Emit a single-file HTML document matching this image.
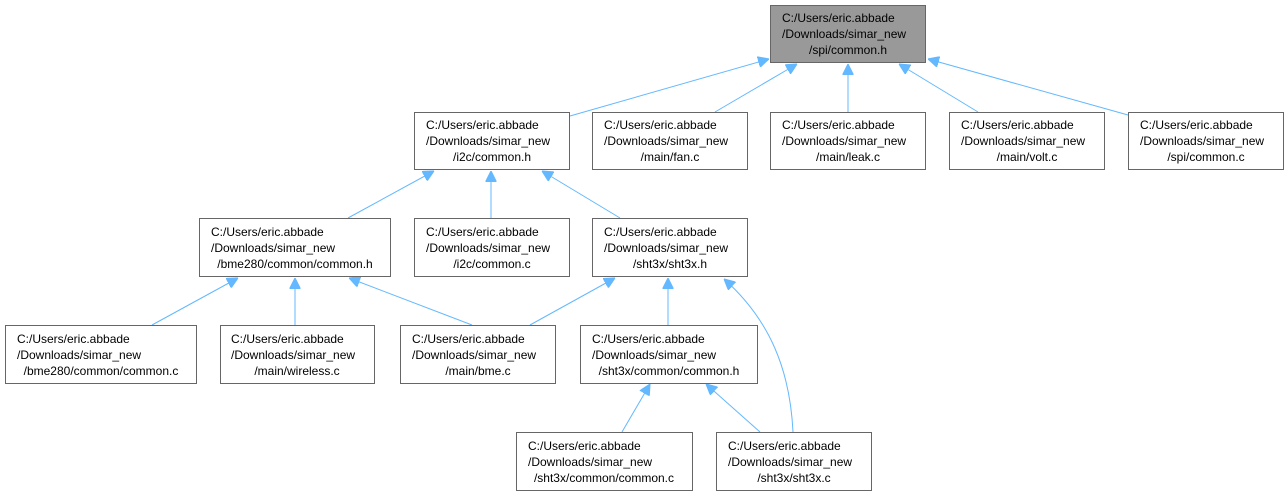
<!DOCTYPE html>
<html><head><meta charset="utf-8"><style>
body{margin:0;background:#fff}
svg{display:block}
text{font-family:"Liberation Sans",Arial,sans-serif;font-size:12px;fill:#000}
.b{fill:#fff;stroke:#666;stroke-width:1}
.g{fill:#999;stroke:#666;stroke-width:1}
.e{stroke:#63b8ff;stroke-width:1;fill:none;marker-end:url(#a)}
</style></head><body>
<svg width="1288" height="496" viewBox="0 0 1288 496" xmlns="http://www.w3.org/2000/svg">
<defs><marker id="a" viewBox="0 0 10 10" refX="10" refY="5" markerWidth="11" markerHeight="11" markerUnits="userSpaceOnUse" orient="auto"><path d="M0,0 L10,5 L0,10 z" fill="#63b8ff" stroke="#63b8ff"/></marker></defs>

<!-- edges -->
<path class="e" d="M570,116 L769,59"/>
<path class="e" d="M715,112 L797,64"/>
<path class="e" d="M848,112 L848,64"/>
<path class="e" d="M978,112 L899,64"/>
<path class="e" d="M1128,115 L928,59"/>
<path class="e" d="M348,218 L434,171"/>
<path class="e" d="M491,218 L491,171"/>
<path class="e" d="M620,218 L542,171"/>
<path class="e" d="M152,325 L238,278"/>
<path class="e" d="M295,325 L295,278"/>
<path class="e" d="M472,325 L349,278"/>
<path class="e" d="M530,325 L615,278"/>
<path class="e" d="M668,325 L668,278"/>
<path class="e" d="M793,432 C790,370 770,320 724,279"/>
<path class="e" d="M622,432 L650,384"/>
<path class="e" d="M760,432 L706,384"/>

<!-- nodes -->
<g>
<rect class="g" x="770.5" y="5.5" width="155" height="57"/>
<text x="782" y="22">C:/Users/eric.abbade</text><text x="782" y="38">/Downloads/simar_new</text><text x="848" y="54" text-anchor="middle">/spi/common.h</text>
</g>
<g>
<rect class="b" x="414.5" y="112.5" width="155" height="57"/>
<text x="426" y="129">C:/Users/eric.abbade</text><text x="426" y="145">/Downloads/simar_new</text><text x="492" y="161" text-anchor="middle">/i2c/common.h</text>
</g>
<g>
<rect class="b" x="592.5" y="112.5" width="155" height="57"/>
<text x="604" y="129">C:/Users/eric.abbade</text><text x="604" y="145">/Downloads/simar_new</text><text x="670" y="161" text-anchor="middle">/main/fan.c</text>
</g>
<g>
<rect class="b" x="770.5" y="112.5" width="155" height="57"/>
<text x="782" y="129">C:/Users/eric.abbade</text><text x="782" y="145">/Downloads/simar_new</text><text x="848" y="161" text-anchor="middle">/main/leak.c</text>
</g>
<g>
<rect class="b" x="949.5" y="112.5" width="155" height="57"/>
<text x="961" y="129">C:/Users/eric.abbade</text><text x="961" y="145">/Downloads/simar_new</text><text x="1027" y="161" text-anchor="middle">/main/volt.c</text>
</g>
<g>
<rect class="b" x="1128.5" y="112.5" width="155" height="57"/>
<text x="1140" y="129">C:/Users/eric.abbade</text><text x="1140" y="145">/Downloads/simar_new</text><text x="1206" y="161" text-anchor="middle">/spi/common.c</text>
</g>

<g>
<rect class="b" x="199.5" y="218.5" width="191" height="58"/>
<text x="211" y="236">C:/Users/eric.abbade</text><text x="211" y="252">/Downloads/simar_new</text><text x="295" y="268" text-anchor="middle">/bme280/common/common.h</text>
</g>
<g>
<rect class="b" x="414.5" y="218.5" width="155" height="58"/>
<text x="426" y="236">C:/Users/eric.abbade</text><text x="426" y="252">/Downloads/simar_new</text><text x="492" y="268" text-anchor="middle">/i2c/common.c</text>
</g>
<g>
<rect class="b" x="592.5" y="218.5" width="155" height="58"/>
<text x="604" y="236">C:/Users/eric.abbade</text><text x="604" y="252">/Downloads/simar_new</text><text x="670" y="268" text-anchor="middle">/sht3x/sht3x.h</text>
</g>

<g>
<rect class="b" x="5.5" y="325.5" width="191" height="58"/>
<text x="17" y="343">C:/Users/eric.abbade</text><text x="17" y="359">/Downloads/simar_new</text><text x="101" y="375" text-anchor="middle">/bme280/common/common.c</text>
</g>
<g>
<rect class="b" x="220.5" y="325.5" width="154" height="58"/>
<text x="231" y="343">C:/Users/eric.abbade</text><text x="231" y="359">/Downloads/simar_new</text><text x="297" y="375" text-anchor="middle">/main/wireless.c</text>
</g>
<g>
<rect class="b" x="400.5" y="325.5" width="155" height="58"/>
<text x="412" y="343">C:/Users/eric.abbade</text><text x="412" y="359">/Downloads/simar_new</text><text x="478" y="375" text-anchor="middle">/main/bme.c</text>
</g>
<g>
<rect class="b" x="580.5" y="325.5" width="177" height="58"/>
<text x="592" y="343">C:/Users/eric.abbade</text><text x="592" y="359">/Downloads/simar_new</text><text x="669" y="375" text-anchor="middle">/sht3x/common/common.h</text>
</g>

<g>
<rect class="b" x="516.5" y="432.5" width="176" height="58"/>
<text x="528" y="450">C:/Users/eric.abbade</text><text x="528" y="466">/Downloads/simar_new</text><text x="604" y="482" text-anchor="middle">/sht3x/common/common.c</text>
</g>
<g>
<rect class="b" x="716.5" y="432.5" width="155" height="58"/>
<text x="728" y="450">C:/Users/eric.abbade</text><text x="728" y="466">/Downloads/simar_new</text><text x="794" y="482" text-anchor="middle">/sht3x/sht3x.c</text>
</g>
</svg>
</body></html>
